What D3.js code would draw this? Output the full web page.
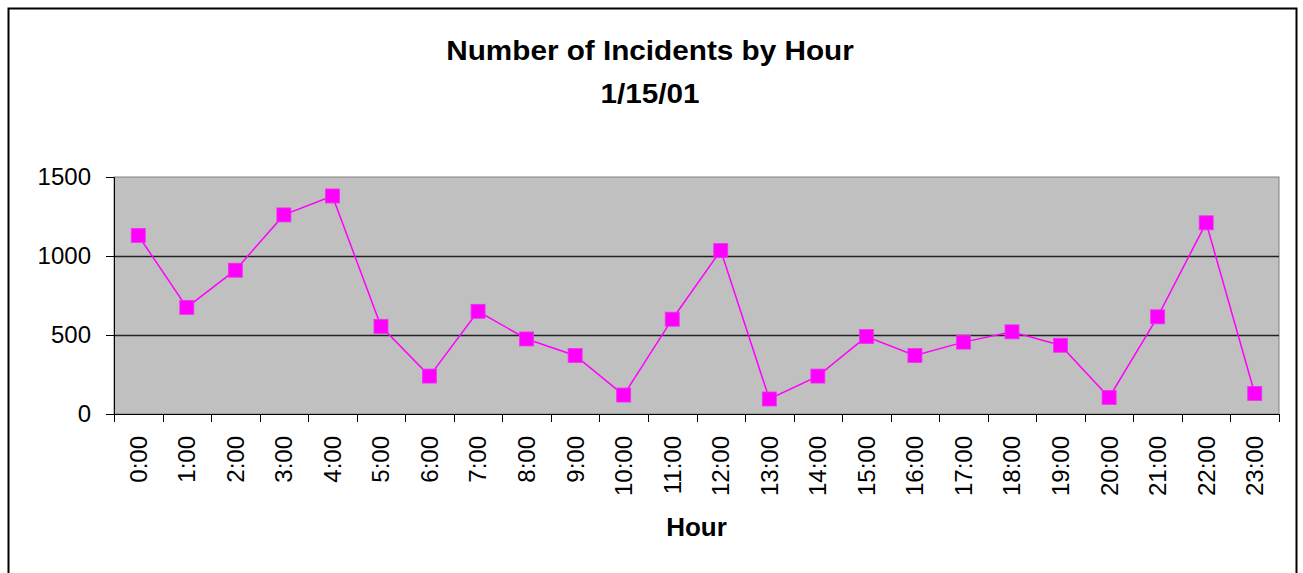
<!DOCTYPE html>
<html>
<head>
<meta charset="utf-8">
<script src="https://cdn.jsdelivr.net/npm/d3@7/dist/d3.min.js"></script>
<style>
  html, body { margin: 0; padding: 0; background: #fff; }
  svg { display: block; font-family: Arial, "Liberation Sans", sans-serif; }
</style>
</head>
<body>
<div id="chart"></div>
<script>
const hours = ['0:00','1:00','2:00','3:00','4:00','5:00','6:00','7:00','8:00','9:00','10:00','11:00',
               '12:00','13:00','14:00','15:00','16:00','17:00','18:00','19:00','20:00','21:00','22:00','23:00'];
const incidents = [1130, 675, 910, 1260, 1380, 555, 240, 650, 475, 370, 120, 600,
                   1035, 95, 240, 490, 370, 455, 520, 435, 105, 615, 1210, 130];
const yTicks = [0, 500, 1000, 1500];
const titleLines = ['Number of Incidents by Hour', '1/15/01'];
const xTitle = 'Hour';

const W = 1303, H = 573;
const plot = { left: 114, right: 1279, top: 177, bottom: 414 };

const svg = d3.select('#chart').append('svg')
  .attr('width', W).attr('height', H);

// outer frame
svg.append('rect')
  .attr('x', 8.5).attr('y', 8.5)
  .attr('width', 1288).attr('height', 620)
  .attr('fill', '#fff').attr('stroke', '#000').attr('stroke-width', 2);

const x = d3.scaleBand().domain(hours).range([plot.left, plot.right]);
const y = d3.scaleLinear().domain([0, 1500]).range([plot.bottom, plot.top]);

// plot area
svg.append('rect')
  .attr('x', plot.left).attr('y', plot.top)
  .attr('width', plot.right - plot.left).attr('height', plot.bottom - plot.top)
  .attr('fill', '#c0c0c0').attr('stroke', '#808080').attr('stroke-width', 1);

// gridlines
svg.append('g').selectAll('line')
  .data(yTicks.filter(d => d > 0 && d < 1500))
  .join('line')
  .attr('x1', plot.left).attr('x2', plot.right)
  .attr('y1', d => Math.round(y(d)) + 0.5).attr('y2', d => Math.round(y(d)) + 0.5)
  .attr('stroke', '#222').attr('stroke-width', 1.3);

// y axis
const yAxis = svg.append('g')
  .attr('transform', `translate(${plot.left},0)`)
  .call(d3.axisLeft(y).tickValues(yTicks).tickFormat(d3.format('d')).tickSize(8).tickPadding(15));
yAxis.select('.domain').attr('stroke', '#000');
yAxis.selectAll('.tick line').attr('stroke', '#000');
yAxis.selectAll('text').attr('font-size', 24).attr('fill', '#000')
  .attr('font-family', 'Arial, "Liberation Sans", sans-serif');

// x axis: ticks between categories
const xAxisG = svg.append('g').attr('transform', `translate(0,${plot.bottom})`);
xAxisG.append('line')
  .attr('x1', plot.left).attr('x2', plot.right)
  .attr('y1', 0.5).attr('y2', 0.5).attr('stroke', '#000');
const bounds = hours.map(h => x(h)).concat([plot.right]);
xAxisG.selectAll('.sep').data(bounds).join('line')
  .attr('class', 'sep')
  .attr('x1', d => Math.round(d) + 0.5).attr('x2', d => Math.round(d) + 0.5)
  .attr('y1', 0).attr('y2', 8).attr('stroke', '#000');
xAxisG.selectAll('text').data(hours).join('text')
  .attr('transform', d => `translate(${x(d) + x.bandwidth() / 2},22) rotate(-90)`)
  .attr('text-anchor', 'end')
  .attr('dy', '0.35em')
  .attr('font-size', 24)
  .attr('fill', '#000')
  .text(d => d);

// series
const line = d3.line()
  .x((d, i) => x(hours[i]) + x.bandwidth() / 2)
  .y(d => y(d));
svg.append('path')
  .datum(incidents)
  .attr('d', line)
  .attr('fill', 'none')
  .attr('stroke', '#ff00ff')
  .attr('stroke-width', 1.5);

const ms = 14;
svg.append('g').selectAll('rect')
  .data(incidents)
  .join('rect')
  .attr('x', (d, i) => x(hours[i]) + x.bandwidth() / 2 - ms / 2)
  .attr('y', d => y(d) - ms / 2)
  .attr('width', ms).attr('height', ms)
  .attr('fill', '#ff00ff')
  .attr('stroke', '#ee33ee').attr('stroke-width', 0.8);

// titles (slightly wide face, as in the original)
svg.append('g').selectAll('text')
  .data(titleLines)
  .join('text')
  .attr('transform', (d, i) => `translate(650,${i === 0 ? 60 : 103}) scale(1.1,1)`)
  .attr('text-anchor', 'middle')
  .attr('font-size', 27).attr('font-weight', 'bold')
  .attr('fill', '#000')
  .text(d => d);

svg.append('text')
  .attr('x', (plot.left + plot.right) / 2).attr('y', 536)
  .attr('text-anchor', 'middle')
  .attr('font-size', 26).attr('font-weight', 'bold')
  .attr('fill', '#000')
  .text(xTitle);
</script>
</body>
</html>
